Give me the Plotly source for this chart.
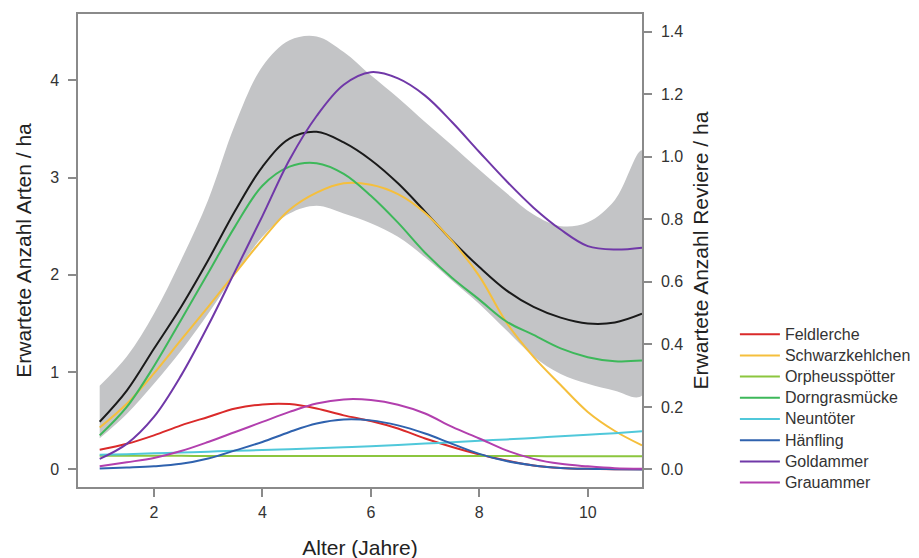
import plotly.graph_objects as go

# ---------------- data ----------------
alter = [1, 1.5, 2, 2.5, 3, 3.5, 4, 4.5, 5, 5.5, 6, 6.5, 7, 7.5, 8, 8.5, 9, 9.5, 10, 10.5, 11]

# total species (left axis)
arten = [0.49, 0.81, 1.24, 1.67, 2.15, 2.66, 3.11, 3.40, 3.47, 3.36, 3.18, 2.94, 2.65, 2.35, 2.08, 1.84,
         1.67, 1.56, 1.50, 1.51, 1.60]
arten_upper = [0.86, 1.16, 1.60, 2.15, 2.77, 3.55, 4.14, 4.41, 4.45, 4.29, 4.05, 3.82, 3.57, 3.33, 3.08,
               2.84, 2.62, 2.50, 2.54, 2.77, 3.28]
arten_lower = [0.32, 0.57, 0.88, 1.22, 1.60, 2.01, 2.39, 2.63, 2.71, 2.63, 2.53, 2.39, 2.18, 1.94, 1.70,
               1.43, 1.16, 0.98, 0.88, 0.81, 0.76]

# territories per species (right axis)
feldlerche = [0.063, 0.082, 0.109, 0.141, 0.168, 0.195, 0.208, 0.209, 0.195, 0.173, 0.155, 0.131, 0.099,
              0.072, 0.048, 0.029, 0.013, 0.005, 0.002, 0.001, 0.001]
schwarzkehlchen = [0.134, 0.21, 0.307, 0.414, 0.52, 0.628, 0.735, 0.83, 0.885, 0.915, 0.91, 0.88, 0.82,
                   0.73, 0.618, 0.47, 0.36, 0.27, 0.184, 0.123, 0.077]
orpheusspoetter = [0.044, 0.044, 0.044, 0.044, 0.043, 0.043, 0.043, 0.043, 0.043, 0.043, 0.043, 0.043,
                   0.043, 0.043, 0.043, 0.043, 0.043, 0.042, 0.042, 0.042, 0.042]
dorngrasmuecke = [0.109, 0.20, 0.33, 0.478, 0.628, 0.778, 0.907, 0.968, 0.979, 0.945, 0.875, 0.789, 0.693,
                  0.612, 0.543, 0.473, 0.43, 0.387, 0.359, 0.346, 0.348]
neuntoeter = [0.047, 0.049, 0.052, 0.054, 0.057, 0.060, 0.062, 0.065, 0.068, 0.071, 0.074, 0.078, 0.083,
              0.087, 0.092, 0.096, 0.101, 0.106, 0.111, 0.116, 0.122]
haenfling = [0.003, 0.006, 0.01, 0.018, 0.035, 0.061, 0.088, 0.12, 0.147, 0.16, 0.157, 0.141, 0.115,
             0.082, 0.05, 0.027, 0.013, 0.005, 0.002, 0.001, 0.0]
goldammer = [0.034, 0.082, 0.168, 0.30, 0.46, 0.635, 0.81, 0.99, 1.13, 1.23, 1.27, 1.25, 1.195, 1.11,
             1.015, 0.922, 0.837, 0.767, 0.714, 0.703, 0.709]
grauammer = [0.01, 0.023, 0.037, 0.059, 0.088, 0.12, 0.152, 0.184, 0.211, 0.224, 0.222, 0.207, 0.179,
             0.136, 0.099, 0.061, 0.034, 0.018, 0.01, 0.004, 0.002]

species_names = ["Feldlerche", "Schwarzkehlchen", "Orpheusspötter", "Dorngrasmücke",
                 "Neuntöter", "Hänfling", "Goldammer", "Grauammer"]
species_values = [feldlerche, schwarzkehlchen, orpheusspoetter, dorngrasmuecke,
                  neuntoeter, haenfling, goldammer, grauammer]
species_colors = ["#DA2A2A", "#F5BF3C", "#8CC63F", "#3DB85A",
                  "#50C8DA", "#2F62AE", "#7038A8", "#B23FAE"]

x_ticks = [2, 4, 6, 8, 10]
y_ticks = [0, 1, 2, 3, 4]
y2_ticks = [0.0, 0.2, 0.4, 0.6, 0.8, 1.0, 1.2, 1.4]

FONT = "Liberation Sans, Arial, sans-serif"

# ---------------- figure ----------------
fig = go.Figure()

fig.add_trace(go.Scatter(
    x=alter + alter[::-1], y=arten_upper + arten_lower[::-1],
    fill="toself", fillcolor="#C3C4C6", line=dict(width=0, shape="spline", smoothing=1.0),
    mode="lines", showlegend=False, hoverinfo="skip", yaxis="y"))

fig.add_trace(go.Scatter(
    x=alter, y=arten, mode="lines", line=dict(color="#1A1A1A", width=2, shape="spline", smoothing=1.0),
    showlegend=False, yaxis="y"))

for name, vals, col in zip(species_names, species_values, species_colors):
    fig.add_trace(go.Scatter(
        x=alter, y=vals, mode="lines",
        name="<span style='font-size:16px'>" + name + "</span>",
        line=dict(color=col, width=2, shape="spline", smoothing=1.0),
        yaxis="y2"))

axis_common = dict(
    showgrid=False, zeroline=False, showline=True, linecolor="#8A8A8A", linewidth=1.5,
    ticks="outside", ticklen=8, tickwidth=1.5, tickcolor="#8A8A8A", automargin=False,
    tickfont=dict(family=FONT, size=16, color="#333333"),
)
title_font = dict(family=FONT, size=21, color="#222222")

fig.update_layout(
    width=919, height=558,
    margin=dict(l=70, r=285, t=6, b=79, autoexpand=False),
    paper_bgcolor="white", plot_bgcolor="white",
    font=dict(family=FONT, color="#222222"),
    xaxis=dict(
        range=[0.6, 11.0], tickvals=x_ticks, mirror=True, ticklabelstandoff=2,
        title=dict(text="Alter (Jahre)", font=title_font, standoff=20),
        **axis_common),
    yaxis=dict(
        range=[-0.18, 4.68], tickvals=y_ticks, mirror=True, ticklabelstandoff=6,
        title=dict(text="Erwartete Anzahl Arten / ha", font=title_font, standoff=13),
        **axis_common),
    yaxis2=dict(
        range=[-0.056, 1.456], tickvals=y2_ticks, tickformat=".1f", ticklabelstandoff=6,
        overlaying="y", side="right",
        title=dict(text="Erwartete Anzahl Reviere / ha", font=title_font, standoff=11),
        **axis_common),
    legend=dict(
        x=1.1647, xanchor="left", y=0.356, yanchor="top",
        font=dict(family=FONT, size=14, color="#333333"),
        bgcolor="rgba(0,0,0,0)", tracegroupgap=0, itemwidth=40,
    ),
)

fig.write_html("out.html")
